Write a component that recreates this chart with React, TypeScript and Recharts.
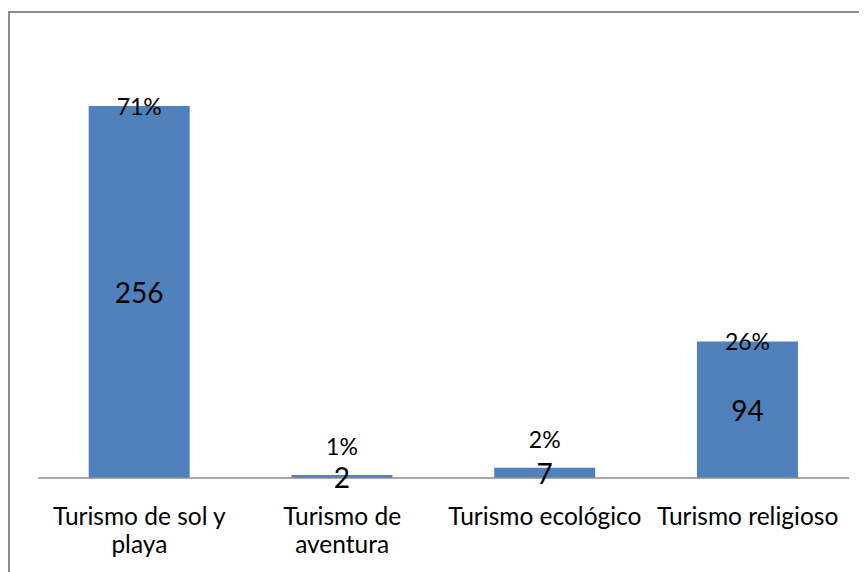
import { Bar, BarChart, LabelList, XAxis, YAxis } from "recharts";

const categories = [
  "Turismo de sol y\nplaya",
  "Turismo de\naventura",
  "Turismo ecológico",
  "Turismo religioso",
];
const counts = [256, 2, 7, 94];
const percents = ["71%", "1%", "2%", "26%"];

const data = categories.map((name, i) => ({
  name,
  count: counts[i],
  pct: percents[i],
}));

const FONT = "Lato, 'Open Sans', sans-serif";

const CategoryTick = ({ x, y, payload }: any) => {
  const lines = String(payload.value).split("\n");
  return (
    <text x={x} y={y + 39} textAnchor="middle" fontFamily={FONT} fontSize={24.5} fill="#000">
      {lines.map((line, i) => (
        <tspan key={i} x={x} dy={i === 0 ? 0 : 28}>
          {line}
        </tspan>
      ))}
    </text>
  );
};

const PercentLabel = ({ x, y, width, height, index }: any) => {
  // short bars get their share above the count, tall ones sit on the top edge
  const ly = height > 40 ? y : y - 29;
  return (
    <text
      x={x + width / 2}
      y={ly}
      textAnchor="middle"
      dominantBaseline="central"
      fontFamily={FONT}
      fontSize={23}
      fill="#000"
    >
      {percents[index]}
    </text>
  );
};

const ValueLabel = ({ x, y, width, height, value }: any) => (
  <text
    x={x + width / 2}
    y={y + height / 2}
    textAnchor="middle"
    dominantBaseline="central"
    fontFamily={FONT}
    fontSize={28}
    fill="#000"
  >
    {value}
  </text>
);

export default function App() {
  return (
    <div
      style={{
        marginTop: 3,
        width: 857,
        height: 559,
        borderTop: "2px solid #8c8c8c",
        borderLeft: "2px solid #8c8c8c",
        background: "#fff",
      }}
    >
      <BarChart
        width={857}
        height={559}
        data={data}
        margin={{ top: 29, right: 18, bottom: 14, left: 28 }}
        barCategoryGap="25%"
      >
        <XAxis
          dataKey="name"
          interval={0}
          tickLine={false}
          axisLine={{ stroke: "#8c8c8c", strokeWidth: 1.5 }}
          tick={<CategoryTick />}
          height={80}
        />
        <YAxis hide domain={[0, 300]} />
        <Bar dataKey="count" fill="#4f81bd" isAnimationActive={false}>
          <LabelList dataKey="count" content={<ValueLabel />} />
          <LabelList dataKey="pct" content={<PercentLabel />} />
        </Bar>
      </BarChart>
    </div>
  );
}
